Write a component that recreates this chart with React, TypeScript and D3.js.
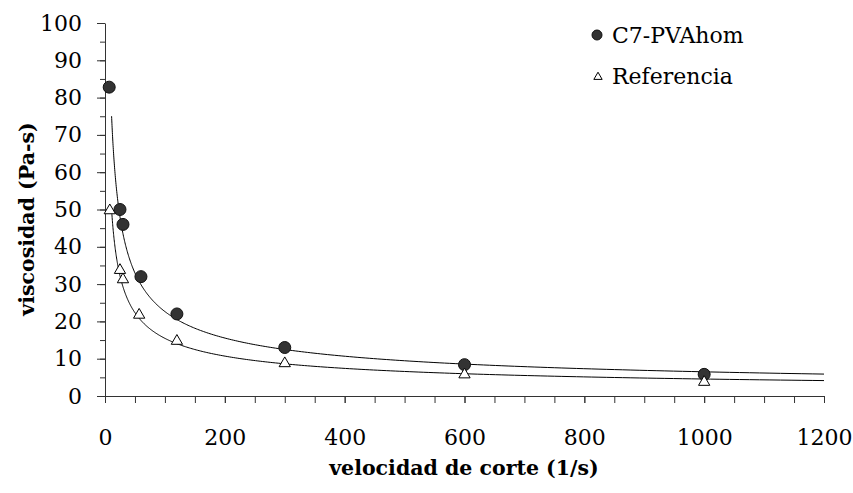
import React, { useEffect, useRef } from "react";
import * as d3 from "d3";

// shear rate (1/s) and viscosity (Pa-s)
const c7X = [7, 25, 30, 60, 120, 300, 600, 1000];
const c7Y = [82.8, 50, 46, 32, 22, 13, 8.4, 5.8];
const refX = [8, 25, 30, 57, 120, 300, 600, 1000];
const refY = [50, 34, 31.5, 22, 15, 9, 6, 4];

const seriesNames = ["C7-PVAhom", "Referencia"];
const xTicks = [0, 200, 400, 600, 800, 1000, 1200];
const yTicks = [0, 10, 20, 30, 40, 50, 60, 70, 80, 90, 100];
const trendFrom = 11;

const W = 853;
const H = 493;
const left = 105, right = 824, top = 23, bottom = 396;
const font = "'DejaVu Serif', 'Liberation Serif', serif";

function powerFit(xs: number[], ys: number[]) {
  const lx = xs.map(Math.log), ly = ys.map(Math.log);
  const mx = d3.mean(lx)!, my = d3.mean(ly)!;
  let num = 0, den = 0;
  lx.forEach((v, i) => { num += (v - mx) * (ly[i] - my); den += (v - mx) * (v - mx); });
  const b = num / den;
  const a = Math.exp(my - b * mx);
  return (x: number) => a * Math.pow(x, b);
}

export default function App() {
  const ref = useRef<SVGSVGElement>(null);

  useEffect(() => {
    const svg = d3.select(ref.current);
    svg.selectAll("*").remove();

    const x = d3.scaleLinear().domain([0, 1200]).range([left, right]);
    const y = d3.scaleLinear().domain([0, 100]).range([bottom, top]);

    // minor ticks
    svg.append("g")
      .attr("transform", `translate(0,${bottom})`)
      .call(d3.axisBottom(x).tickValues(d3.range(0, 1201, 50)).tickSize(7).tickFormat(() => ""))
      .call(g => g.select(".domain").remove())
      .selectAll("line").attr("stroke", "#333");
    svg.append("g")
      .attr("transform", `translate(${left},0)`)
      .call(d3.axisLeft(y).tickValues(d3.range(0, 101, 5)).tickSize(5).tickFormat(() => ""))
      .call(g => g.select(".domain").remove())
      .selectAll("line").attr("stroke", "#333");

    // major axes
    const xa = svg.append("g")
      .attr("transform", `translate(0,${bottom})`)
      .call(d3.axisBottom(x).tickValues(xTicks).tickSize(7).tickSizeOuter(0).tickPadding(26).tickFormat(d3.format("d")));
    const ya = svg.append("g")
      .attr("transform", `translate(${left},0)`)
      .call(d3.axisLeft(y).tickValues(yTicks).tickSize(8).tickSizeOuter(0).tickPadding(15).tickFormat(d3.format("d")));
    [xa, ya].forEach(g => {
      g.attr("font-family", font).attr("font-size", 22);
      g.select(".domain").attr("stroke", "#333");
      g.selectAll("line").attr("stroke", "#333");
      g.selectAll("text").attr("fill", "#000");
    });

    // trend lines (power fit)
    let fn = (v: number) => v;
    const line = d3.line<number>().x(d => x(d)).y(d => y(fn(d)));
    const xs = d3.range(0, 301).map(i => trendFrom * Math.pow(1200 / trendFrom, i / 300));
    [[c7X, c7Y], [refX, refY]].forEach(([xv, yv]) => {
      fn = powerFit(xv, yv);
      svg.append("path").attr("d", line(xs)!).attr("fill", "none").attr("stroke", "#000").attr("stroke-width", 1);
    });

    // points
    svg.append("g").selectAll("circle").data(c7X).enter().append("circle")
      .attr("cx", d => x(d)).attr("cy", (d, i) => y(c7Y[i])).attr("r", 6)
      .attr("fill", "#333").attr("stroke", "#111").attr("stroke-width", 1);
    const tri = d3.symbol().type(d3.symbolTriangle).size(55);
    svg.append("g").selectAll("path").data(refX).enter().append("path")
      .attr("d", tri()!)
      .attr("transform", (d, i) => `translate(${x(d)},${y(refY[i]) + 1})`)
      .attr("fill", "#fff").attr("stroke", "#000").attr("stroke-width", 1);

    // legend
    const lg = svg.append("g").attr("font-family", font).attr("font-size", 22);
    lg.append("circle").attr("cx", 597).attr("cy", 35).attr("r", 5).attr("fill", "#333").attr("stroke", "#111");
    lg.append("path").attr("d", d3.symbol().type(d3.symbolTriangle).size(30)()!)
      .attr("transform", "translate(598,77)").attr("fill", "#fff").attr("stroke", "#000");
    seriesNames.forEach((n, i) => {
      lg.append("text").attr("x", 612).attr("y", 43 + i * 41).text(n).attr("fill", "#000");
    });

    // titles
    const tg = svg.append("g").attr("font-family", font).attr("font-size", 20.5).attr("font-weight", "bold");
    tg.append("text").attr("x", 464).attr("y", 475).attr("text-anchor", "middle")
      .text("velocidad de corte (1/s)");
    tg.append("text").attr("transform", `translate(34,219) rotate(-90)`).attr("text-anchor", "middle")
      .text("viscosidad (Pa-s)");
  }, []);

  return <svg ref={ref} width={W} height={H} style={{ position: "absolute", left: 0, top: 0, background: "#fff" }} />;
}
